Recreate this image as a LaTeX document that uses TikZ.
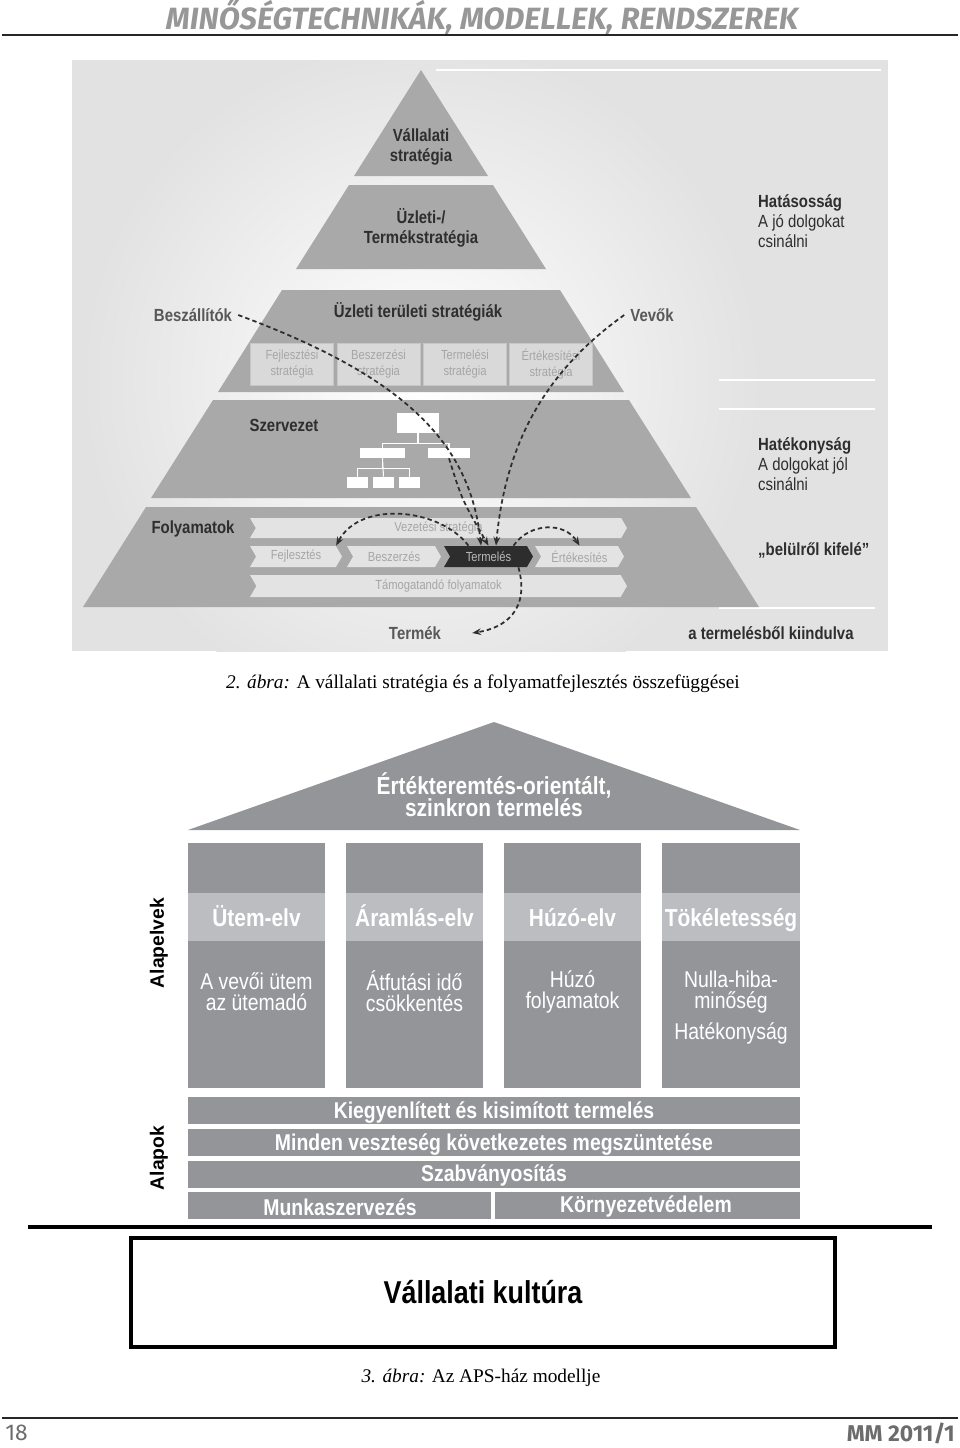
\documentclass[tikz,border=0pt]{standalone}
\usepackage{fontspec}
\setmainfont{Liberation Serif}
\setsansfont{Liberation Sans}
\newfontfamily\narrowsans[FakeStretch=0.85]{Liberation Sans}
\newfontfamily\pagesans{Fira Sans}
\usetikzlibrary{arrows.meta,shapes.symbols}

\definecolor{housegray}{HTML}{939598}
\definecolor{bandgray}{HTML}{BCBDC0}
\definecolor{pyrgray}{HTML}{A9A9A9}
\definecolor{pyrbg}{HTML}{E2E2E2}
\definecolor{boxgray}{HTML}{D9D9D9}
\definecolor{pyrtext}{HTML}{2E2E2E}
\definecolor{headgray}{HTML}{979797}

\tikzset{
  pyrlabel/.style={font=\narrowsans\bfseries\fontsize{10}{11.3}\selectfont, text=pyrtext, align=center},
  pyrnote/.style={font=\narrowsans\fontsize{10}{11.3}\selectfont, text=pyrtext, align=left, anchor=west},
  stratbox/.style={draw=gray!45, fill=boxgray, text=gray!70, font=\narrowsans\fontsize{7.5}{9.5}\selectfont,
    align=center, minimum width=16.6mm, minimum height=8.4mm, inner sep=0pt},
  procband/.style={shape=signal, signal from=west, signal to=east, signal pointer angle=120,
    fill=gray!22, text=gray!70, font=\narrowsans\fontsize{7.5}{9}\selectfont, inner sep=0pt},
  orgbox/.style={fill=white, inner sep=0pt},
  orgline/.style={white, line width=0.6pt},
  flowline/.style={dash pattern=on 2.5pt off 1.8pt, gray!35!black, line width=1pt, -{Stealth[length=5pt]}},
  rooflabel/.style={text=white, align=center, font=\narrowsans\bfseries\fontsize{14}{12.6}\selectfont},
  househead/.style={text=white, font=\narrowsans\bfseries\fontsize{14}{16}\selectfont, text height=10pt, text depth=3pt},
  housetext/.style={text=white, font=\narrowsans\fontsize{13}{12}\selectfont, align=center},
  barlabel/.style={text=white, font=\narrowsans\bfseries\fontsize{13}{14}\selectfont, text height=9.5pt, text depth=2.5pt},
  sidelabel/.style={rotate=90, font=\sffamily\bfseries\fontsize{11}{13}\selectfont},
}

\begin{document}
\lineskiplimit=-20pt
\begin{tikzpicture}[x=0.02cm,y=-0.02cm]
    \useasboundingbox (0,0) rectangle (960,1448);

    % page head
    \node[font=\pagesans\itshape\bfseries\fontsize{17.5}{19}\selectfont, text=headgray] (rovat) at (482,17) {MINŐSÉGTECHNIKÁK, MODELLEK, RENDSZEREK};
    \draw[line width=1pt, gray!30!black] (2,35) -- (958,35);

    % 2. abra: the strategy pyramid
    \fill[pyrbg] (72,60) rectangle (888,651);
    \begin{scope}
        \clip (72,60) rectangle (888,651);
        \shade[inner color=white, outer color=pyrbg] (421,380) circle (340);
    \end{scope}
    \draw[white, line width=1.5pt] (436,70) -- (881,70);
    \draw[white, line width=1.5pt] (719,380) -- (875,380);
    \draw[white, line width=1.5pt] (719,409) -- (875,409);
    \draw[white, line width=1.5pt] (719,608) -- (875,608);

    \fill[pyrgray] (421,70) -- (488,176) -- (354,176) -- cycle;
    \node[pyrlabel] (vallalati) at (421,147) {Vállalati\\stratégia};

    \fill[pyrgray] (349,185) -- (493,185) -- (546,269) -- (296,269) -- cycle;
    \node[pyrlabel] (termekstr) at (421,228) {Üzleti-/\\Termékstratégia};

    \fill[pyrgray] (282,290) -- (560,290) -- (624,392) -- (218,392) -- cycle;
    \node[pyrlabel] (teruleti) at (418,312) {Üzleti területi stratégiák};
    \node[stratbox] (fejlstr) at (292,364) {Fejlesztési\\stratégia};
    \node[stratbox] (beszstr) at (378.5,364) {Beszerzési\\stratégia};
    \node[stratbox] (termstr) at (465,364) {Termelési\\stratégia};
    \node[stratbox] (ertstr) at (551,364) {Értékesítési\\stratégia};

    \fill[pyrgray] (213,400) -- (629,400) -- (691,498) -- (151,498) -- cycle;
    \node[pyrlabel] (szervezet) at (284,425) {Szervezet};
    \node[orgbox, minimum width=8.4mm, minimum height=4mm] (vezeto) at (418,423) {};
    \node[orgbox, minimum width=9mm, minimum height=2mm] (osztaly1) at (382.5,453) {};
    \node[orgbox, minimum width=8.4mm, minimum height=2mm] (osztaly2) at (449,453) {};
    \node[orgbox, minimum width=4.2mm, minimum height=2.2mm] (csoport1) at (357.5,482.5) {};
    \node[orgbox, minimum width=4.2mm, minimum height=2.2mm] (csoport2) at (383.5,482.5) {};
    \node[orgbox, minimum width=4.2mm, minimum height=2.2mm] (csoport3) at (409.5,482.5) {};
    \draw[orgline] (vezeto.south) -- +(0,10) -| (osztaly1.north);
    \draw[orgline] (vezeto.south) -- +(0,10) -| (osztaly2.north);
    \draw[orgline] (osztaly1.south) -- +(0,10) -| (csoport1.north);
    \draw[orgline] (osztaly1.south) -- (csoport2.north);
    \draw[orgline] (osztaly1.south) -- +(0,10) -| (csoport3.north);

    \fill[pyrgray] (146,507) -- (696,507) -- (759,607) -- (83,607) -- cycle;
    \node[pyrlabel] (folyamatok) at (193,529) {Folyamatok};
    \node[procband, minimum width=75.4mm, minimum height=4mm] (vezetesi) at (438.5,528) {Vezetési stratégia};
    \node[procband, minimum width=18.4mm, minimum height=4.2mm] (fejl) at (296,556.5) {Fejlesztés};
    \node[procband, minimum width=18.8mm, minimum height=4.2mm] (beszer) at (394,556.5) {Beszerzés};
    \node[procband, minimum width=17.8mm, minimum height=4.2mm, fill=gray!35!black, text=gray!55] (termelesi) at (488.5,556.5) {Termelés};
    \node[procband, minimum width=17.8mm, minimum height=4.2mm] (ertek) at (579.5,556.5) {Értékesítés};
    \node[procband, minimum width=75.4mm, minimum height=4.4mm] (tamogato) at (438.5,586) {Támogatandó folyamatok};

    \node[pyrlabel, text=pyrtext!80] (beszallitok) at (193,315) {Beszállítók};
    \node[pyrlabel, text=pyrtext!80] (vevok) at (652,315) {Vevők};
    \node[pyrlabel, text=pyrtext!80] (termek) at (415,633) {Termék};

    \node[pyrnote] (hatasossag) at (752,221) {\textbf{Hatásosság}\\A jó dolgokat\\csinálni};
    \node[pyrnote] (hatekonysag) at (752,464) {\textbf{Hatékonyság}\\A dolgokat jól\\csinálni};
    \node[pyrnote, font=\narrowsans\bfseries\fontsize{10}{11.3}\selectfont] (kifele) at (752,550) {„belülről kifelé”};
    \node[pyrlabel] (kiindulva) at (771,633) {a termelésből kiindulva};

    % flow lines
    \draw[flowline] (beszallitok.east) .. controls (400,375) and (470,440) .. ([xshift=-1.5mm]termelesi.north);
    \draw[flowline] (vevok.west) .. controls (540,375) and (505,450) .. ([xshift=1.5mm]termelesi.north);
    \draw[flowline] (osztaly2.south) .. controls (462,500) .. (termelesi.north);
    \draw[flowline] ([xshift=-4mm]termelesi.north) .. controls (440,508) and (360,500) .. (fejl.north east);
    \draw[flowline] ([xshift=5mm]termelesi.north) .. controls (530,522) and (565,522) .. (ertek.north);
    \draw[flowline] ([xshift=6mm]termelesi.south) .. controls (530,610) and (505,628) .. ([xshift=5mm]termek.east);

    % 2. abra caption
    \node[font=\fontsize{11}{13}\selectfont] (abra2) at (483,684) {\textit{2. ábra:} A vállalati stratégia és a folyamatfejlesztés összefüggései};

    % 3. abra: the APS house
    \fill[housegray] (188,830) -- (494,722) -- (800,830) -- cycle;
    \node[rooflabel] (teto) at (494,795) {Értékteremtés-orientált,\\szinkron termelés};

    \fill[housegray] (188,843) rectangle (325,1088);
    \fill[housegray] (346,843) rectangle (483,1088);
    \fill[housegray] (504,843) rectangle (641,1088);
    \fill[housegray] (662,843) rectangle (800,1088);
    \fill[bandgray] (188,893) rectangle (325,941);
    \fill[bandgray] (346,893) rectangle (483,941);
    \fill[bandgray] (504,893) rectangle (641,941);
    \fill[bandgray] (662,893) rectangle (800,941);

    \node[househead] (utem) at (256.5,920) {Ütem-elv};
    \node[househead] (aramlas) at (414.5,920) {Áramlás-elv};
    \node[househead] (huzo) at (572.5,920) {Húzó-elv};
    \node[househead] (tokeletes) at (731,920) {Tökéletesség};

    \node[housetext] (utemtext) at (256.5,992) {A vevői ütem\\az ütemadó};
    \node[housetext] (aramlastext) at (414.5,991) {Átfutási idő\\csökkentés};
    \node[housetext] (huzotext) at (572.5,992) {Húzó\\folyamatok};
    \node[housetext] (tokeletestext) at (731,992) {Nulla-hiba-\\minőség};
    \node[housetext] (hatekony) at (731,1033) {Hatékonyság};

    \node[sidelabel] (alapelvek) at (159,943) {Alapelvek};

    \fill[housegray] (188,1097) rectangle (800,1124);
    \node[barlabel] (kiegyenlitett) at (494,1112) {Kiegyenlített és kisimított termelés};
    \fill[housegray] (188,1129) rectangle (800,1156);
    \node[barlabel] (veszteseg) at (494,1144) {Minden veszteség következetes megszüntetése};
    \fill[housegray] (188,1161) rectangle (800,1188);
    \node[barlabel] (szabvany) at (494,1175) {Szabványosítás};
    \fill[housegray] (188,1192) rectangle (491,1219);
    \node[barlabel] (munkaszerv) at (340,1209) {Munkaszervezés};
    \fill[housegray] (495,1192) rectangle (800,1219);
    \node[barlabel] (kornyezet) at (646,1206) {Környezetvédelem};

    \node[sidelabel] (alapok) at (159,1158) {Alapok};

    \draw[line width=2pt] (28,1227) -- (932,1227);
    \draw[line width=2.2pt] (131,1238) rectangle (835,1347);
    \node[font=\narrowsans\bfseries\fontsize{18}{20}\selectfont] (kultura) at (483,1292) {Vállalati kultúra};

    % 3. abra caption
    \node[font=\fontsize{11}{13}\selectfont] (abra3) at (481,1378) {\textit{3. ábra:} Az APS-ház modellje};

    % page foot
    \draw[line width=1pt, gray!30!black] (2,1418) -- (958,1418);
    \node[font=\pagesans\fontsize{13}{15}\selectfont, text=gray!85!black, anchor=west, inner sep=0pt] (oldal) at (5,1433) {18};
    \node[font=\pagesans\bfseries\fontsize{13}{15}\selectfont, text=gray!85!black, anchor=east, inner sep=0pt] (lapszam) at (955,1433) {MM 2011/1};
\end{tikzpicture}
\end{document}
